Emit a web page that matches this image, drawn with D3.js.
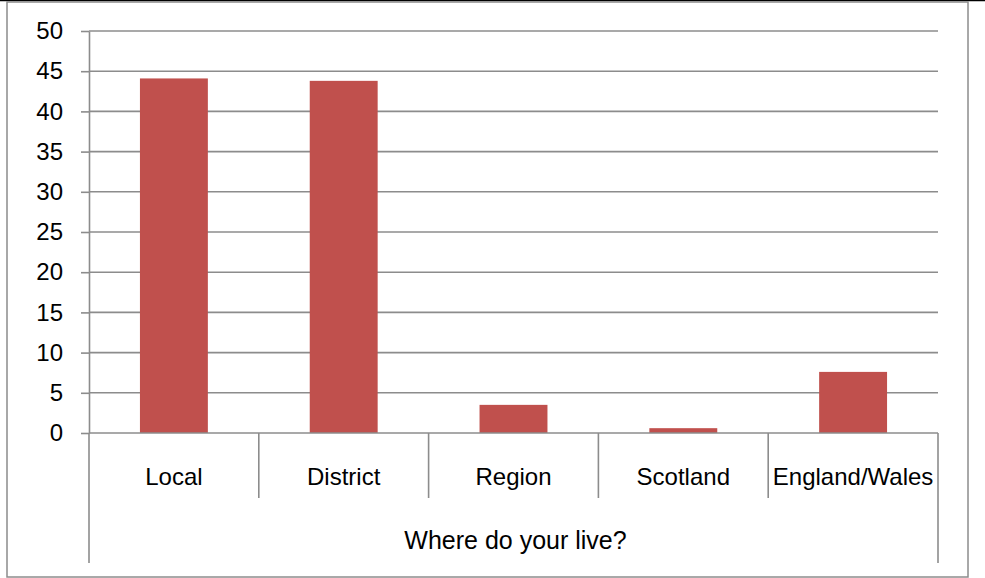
<!DOCTYPE html>
<html>
<head>
<meta charset="utf-8">
<script src="https://cdn.jsdelivr.net/npm/d3@7"></script>
<style>
  html, body { margin: 0; padding: 0; background: #fff; }
  svg { display: block; }
  text { font-family: "Liberation Sans", Arial, sans-serif; fill: #000; }
</style>
</head>
<body>
<svg id="chart" width="985" height="578"></svg>
<script>
const categories = ["Local", "District", "Region", "Scotland", "England/Wales"];
const values = [44.1, 43.8, 3.5, 0.6, 7.6];
const yTicks = [0, 5, 10, 15, 20, 25, 30, 35, 40, 45, 50];
const axisTitle = "Where do your live?";

(function () {
const svg = d3.select("#chart");
const W = 985, H = 578;
const pL = 89, pR = 938, pT = 31, pB = 433;
const gridColor = "#8c8c8c";
const fs = 24;

// outer frame
svg.append("line").attr("x1", 0).attr("x2", W).attr("y1", 0.5).attr("y2", 0.5)
  .attr("stroke", "#000").attr("stroke-width", 1.5);
svg.append("rect").attr("x", 7).attr("y", 2).attr("width", 961).attr("height", 575)
  .attr("fill", "#fff").attr("stroke", "#8c8c8c").attr("stroke-width", 1.5);

const x = d3.scaleBand().domain(categories).range([pL, pR]).paddingInner(0).paddingOuter(0);
const y = d3.scaleLinear().domain([0, 50]).range([pB, pT]);

// gridlines
svg.append("g").selectAll("line").data(yTicks.filter(d => d > 0)).join("line")
  .attr("x1", pL).attr("x2", pR)
  .attr("y1", d => y(d)).attr("y2", d => y(d))
  .attr("stroke", gridColor).attr("stroke-width", 1.6);

// y axis
const yAxis = d3.axisLeft(y).tickValues(yTicks).tickSize(8).tickPadding(18).tickSizeOuter(0);
const gy = svg.append("g").attr("transform", `translate(${pL},0)`).call(yAxis);
gy.select(".domain").attr("stroke", gridColor).attr("stroke-width", 1.6);
gy.selectAll(".tick line").attr("stroke", gridColor).attr("stroke-width", 1.6);
gy.selectAll(".tick text").attr("font-size", fs).attr("fill", "#000")
  .attr("font-family", "'Liberation Sans', Arial, sans-serif");

// bars
const barW = x.bandwidth() * 0.4;
svg.append("g").selectAll("rect").data(values).join("rect")
  .attr("x", (d, i) => x(categories[i]) + (x.bandwidth() - barW) / 2)
  .attr("width", barW)
  .attr("y", d => y(d))
  .attr("height", d => y(0) - y(d))
  .attr("fill", "#c0504d");

// category axis line
svg.append("line").attr("x1", pL).attr("x2", pR).attr("y1", y(0)).attr("y2", y(0))
  .attr("stroke", gridColor).attr("stroke-width", 1.6);

// separators
const bounds = categories.map(c => x(c)).concat([pR]);
svg.append("g").selectAll("line").data(bounds).join("line")
  .attr("x1", d => d).attr("x2", d => d)
  .attr("y1", y(0))
  .attr("y2", (d, i) => (i === 0 || i === bounds.length - 1) ? 563 : 498)
  .attr("stroke", gridColor).attr("stroke-width", 1.6);

// category labels
svg.append("g").selectAll("text").data(categories).join("text")
  .attr("x", d => x(d) + x.bandwidth() / 2)
  .attr("y", 476)
  .attr("text-anchor", "middle").attr("dominant-baseline", "central")
  .attr("font-size", fs)
  .text(d => d);

svg.append("text").attr("x", (pL + pR) / 2 + 2).attr("y", 540)
  .attr("text-anchor", "middle").attr("dominant-baseline", "central")
  .attr("font-size", 25).text(axisTitle);
})();
</script>
</body>
</html>
